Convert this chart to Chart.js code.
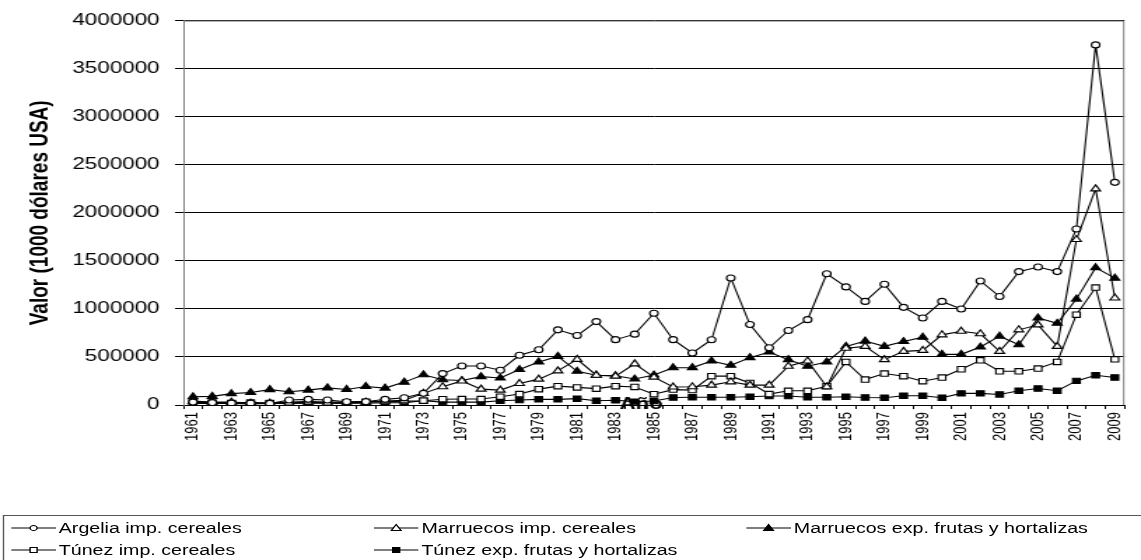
<!DOCTYPE html>
<html>
<head>
<meta charset="utf-8">
<script src="https://cdn.jsdelivr.net/npm/chart.js@4"></script>
<style>
  html, body { margin: 0; padding: 0; background: #fff; overflow: hidden; }
  #page { position: relative; width: 815px; height: 560px; transform: scaleX(1.4); transform-origin: 0 0; }
  #chartBox { position: absolute; left: 0; top: 0; width: 815px; height: 450px; }
  #legend { position: absolute; left: 2px; top: 515px; width: 830px; height: 60px; border: 1px solid #555;
    font-family: "Liberation Sans", Arial, sans-serif; font-size: 14px; color: #000; }
  .item { position: absolute; display: flex; align-items: center; height: 20px; white-space: nowrap; }
  .item svg { margin-right: 2px; }
</style>
</head>
<body>
<div id="page">
  <div id="chartBox"><canvas id="chart"></canvas></div>
  <div id="legend"></div>
</div>
<script>
const years = [1961, 1962, 1963, 1964, 1965, 1966, 1967, 1968, 1969, 1970,
  1971, 1972, 1973, 1974, 1975, 1976, 1977, 1978, 1979, 1980,
  1981, 1982, 1983, 1984, 1985, 1986, 1987, 1988, 1989, 1990,
  1991, 1992, 1993, 1994, 1995, 1996, 1997, 1998, 1999, 2000,
  2001, 2002, 2003, 2004, 2005, 2006, 2007, 2008, 2009];

const argelia = [30000, 25000, 20000, 20000, 15000, 52000, 59000, 52000, 34000, 34000,
  59000, 76000, 121000, 327000, 406000, 406000, 362000, 517000, 575000, 782000,
  723000, 868000, 680000, 737000, 954000, 680000, 541000, 679000, 1322000, 837000,
  596000, 775000, 888000, 1365000, 1229000, 1078000, 1257000, 1016000, 906000, 1078000,
  999000, 1291000, 1129000, 1388000, 1436000, 1388000, 1832000, 3747000, 2317000];

const marruecosImp = [40000, 30000, 30000, 20000, 20000, 20000, 30000, 20000, 20000, 30000,
  40000, 50000, 121000, 190000, 250000, 165000, 155000, 224000, 269000, 355000,
  475000, 310000, 300000, 428000, 290000, 188000, 190000, 207000, 241000, 207000,
  207000, 403000, 458000, 190000, 590000, 610000, 472000, 558000, 568000, 730000,
  768000, 741000, 558000, 782000, 834000, 610000, 1722000, 2249000, 1113000];

const marruecosExp = [86000, 90000, 118000, 130000, 160000, 138000, 155000, 178000, 162000, 193000,
  176000, 238000, 315000, 262000, 255000, 295000, 281000, 369000, 448000, 506000,
  351000, 310000, 305000, 270000, 312000, 388000, 389000, 458000, 413000, 493000,
  551000, 472000, 403000, 448000, 610000, 665000, 610000, 661000, 706000, 527000,
  527000, 603000, 716000, 627000, 906000, 850000, 1102000, 1429000, 1320000];

const tunezImp = [30000, 25000, 20000, 25000, 20000, 30000, 35000, 30000, 30000, 35000,
  34000, 40000, 45000, 60000, 62000, 62000, 86000, 114000, 165000, 196000,
  183000, 170000, 196000, 188000, 112000, 160000, 155000, 300000, 300000, 230000,
  114000, 148000, 148000, 195000, 448000, 265000, 327000, 300000, 248000, 286000,
  372000, 465000, 351000, 351000, 379000, 448000, 940000, 1222000, 475000];

const tunezExp = [15000, 15000, 15000, 10000, 15000, 15000, 20000, 20000, 20000, 20000,
  24000, 25000, 44000, 30000, 30000, 30000, 44000, 52000, 59000, 59000,
  66000, 44000, 50000, 35000, 41000, 78000, 80000, 80000, 80000, 86000,
  93000, 93000, 80000, 80000, 86000, 78000, 76000, 96000, 96000, 76000,
  121000, 121000, 110000, 148000, 172000, 148000, 251000, 310000, 286000];

const seriesNames = ["Argelia imp. cereales", "Marruecos imp. cereales", "Marruecos exp. frutas y hortalizas",
  "Túnez imp. cereales", "Túnez exp. frutas y hortalizas"];

const FONT = '"Liberation Sans", Arial, sans-serif';

function makeSet(label, data, style, fill, radius) {
  return {
    label: label,
    data: data,
    borderColor: "#000",
    borderWidth: 1.1,
    pointStyle: style,
    pointRadius: radius,
    pointBorderWidth: 1.1,
    pointBorderColor: "#000",
    pointBackgroundColor: fill,
    tension: 0
  };
}

// plot area frame (grey, like the original) and the axis name sitting on the axis
const frame = {
  id: "frame",
  beforeDatasetsDraw(chart) {
    const a = chart.chartArea;
    const ctx = chart.ctx;
    ctx.save();
    ctx.strokeStyle = "#808080";
    ctx.lineWidth = 1;
    ctx.beginPath();
    ctx.moveTo(a.left, a.top + 0.5);
    ctx.lineTo(a.right - 0.5, a.top + 0.5);
    ctx.lineTo(a.right - 0.5, a.bottom);
    ctx.stroke();
    ctx.fillStyle = "#000";
    ctx.font = "bold 16px " + FONT;
    ctx.textAlign = "center";
    ctx.textBaseline = "middle";
    ctx.fillText("Año", (a.left + a.right) / 2 - 9, a.bottom);
    ctx.restore();
  }
};

new Chart(document.getElementById("chart"), {
  type: "line",
  data: {
    labels: years.map(String),
    datasets: [
      makeSet(seriesNames[0], argelia, "circle", "#fff", 3),
      makeSet(seriesNames[1], marruecosImp, "triangle", "#fff", 4),
      makeSet(seriesNames[2], marruecosExp, "triangle", "#000", 4),
      makeSet(seriesNames[3], tunezImp, "rect", "#fff", 3.8),
      makeSet(seriesNames[4], tunezExp, "rect", "#000", 3.8)
    ]
  },
  options: {
    responsive: true,
    maintainAspectRatio: false,
    animation: false,
    layout: { padding: { top: 18, right: 9, left: 0, bottom: 0 } },
    plugins: { legend: { display: false }, tooltip: { enabled: false } },
    scales: {
      x: {
        offset: true,
        grid: { offset: true, drawOnChartArea: false, drawTicks: true, tickLength: 4, color: "#000" },
        border: { color: "#000" },
        ticks: {
          autoSkip: false,
          minRotation: 90,
          maxRotation: 90,
          padding: 3,
          color: "#000",
          font: { family: FONT, size: 13 },
          callback: function (v, i) { return i % 2 === 0 ? this.getLabelForValue(v) : ""; }
        },
        afterFit: (s) => { s.height = 45; }
      },
      y: {
        min: 0,
        max: 4000000,
        ticks: {
          stepSize: 500000,
          padding: 11,
          color: "#000",
          font: { family: FONT, size: 16 },
          callback: (v) => String(v)
        },
        grid: { color: "#000", tickLength: 6 },
        border: { color: "#808080" },
        title: {
          display: true,
          text: "Valor (1000 dólares USA)",
          color: "#000",
          font: { family: FONT, size: 19, weight: "bold" },
          padding: { top: 17, bottom: 0 }
        },
        afterFit: (s) => { s.width = 131; }
      }
    }
  },
  plugins: [frame]
});

// legend laid out in columns like the original
const marks = [
  '<circle cx="16" cy="6" r="2.5" fill="#fff" stroke="#000"/>',
  '<polygon points="16,2.5 19.5,8.5 12.5,8.5" fill="#fff" stroke="#000"/>',
  '<polygon points="16,2.5 19.5,8.5 12.5,8.5" fill="#000" stroke="#000"/>',
  '<rect x="13.5" y="3.5" width="5" height="5" fill="#fff" stroke="#000"/>',
  '<rect x="13.5" y="3.5" width="5" height="5" fill="#000" stroke="#000"/>'
];
const spots = [[5, 2], [264, 2], [530, 2], [5, 24], [264, 24]];
const legend = document.getElementById("legend");
seriesNames.forEach((name, i) => {
  const el = document.createElement("div");
  el.className = "item";
  el.style.left = spots[i][0] + "px";
  el.style.top = spots[i][1] + "px";
  el.innerHTML = '<svg width="32" height="12"><line x1="0" y1="6" x2="32" y2="6" stroke="#000"/>' + marks[i] + "</svg>" +
    "<span>" + name + "</span>";
  legend.appendChild(el);
});
</script>
</body>
</html>
